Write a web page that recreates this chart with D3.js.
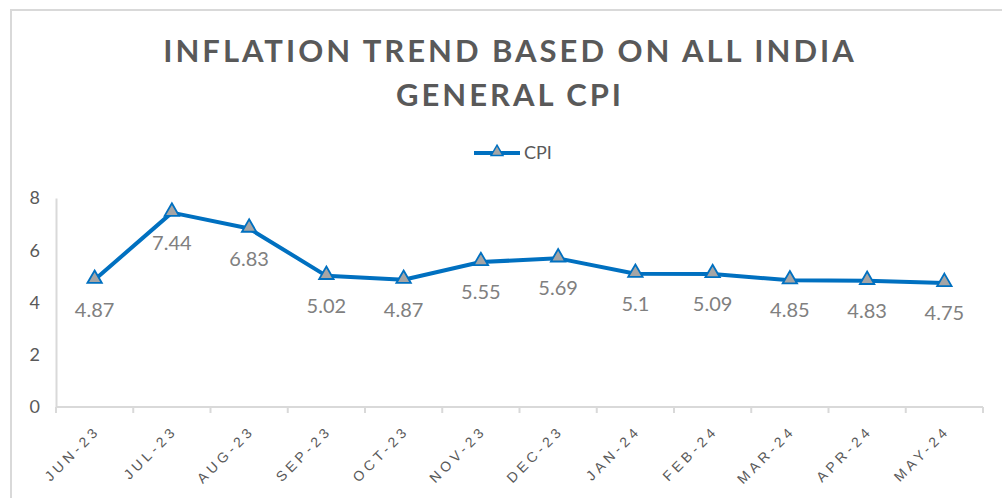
<!DOCTYPE html>
<html>
<head>
<meta charset="utf-8">
<script src="https://cdn.jsdelivr.net/npm/d3@7"></script>
<style>
  body { margin: 0; background: #fff; }
  svg { display: block; font-family: Lato, "Open Sans", sans-serif; }
</style>
</head>
<body>
<div id="chart"></div>
<script>
var months = ["JUN-23", "JUL-23", "AUG-23", "SEP-23", "OCT-23", "NOV-23",
              "DEC-23", "JAN-24", "FEB-24", "MAR-24", "APR-24", "MAY-24"]
var cpi = [4.87, 7.44, 6.83, 5.02, 4.87, 5.55, 5.69, 5.1, 5.09, 4.85, 4.83, 4.75]
var yTicks = [0, 2, 4, 6, 8]
var titleLines = ["INFLATION TREND BASED ON ALL INDIA", "GENERAL CPI"]
var seriesName = "CPI"

var W = 1002, H = 498
var margin = { top: 198, right: 19, bottom: 91, left: 56 }
var width = W - margin.left - margin.right
var height = H - margin.top - margin.bottom

var svg = d3.select("#chart").append("svg")
    .attr("width", W)
    .attr("height", H)

// frame (top + left only visible)
svg.append("path")
    .attr("d", "M11," + H + " L11,10 L" + W + ",10")
    .attr("fill", "none")
    .attr("stroke", "#d9d9d9")
    .attr("stroke-width", 2)

// title
svg.append("text")
    .attr("text-anchor", "middle")
    .attr("fill", "#595959")
    .style("font-size", "31px")
    .style("font-weight", "bold")
    .style("letter-spacing", "3px")
    .selectAll("tspan")
    .data(titleLines)
    .enter().append("tspan")
    .attr("x", 510)
    .attr("y", function(d, i) { return 62 + i * 44 })
    .text(function(d) { return d })

var g = svg.append("g")
    .attr("transform", "translate(" + margin.left + "," + margin.top + ")")

var x = d3.scaleBand().domain(months).range([0, width])
var y = d3.scaleLinear().domain([0, 8]).range([height, 0])

// y axis
var yAxis = g.append("g").call(d3.axisLeft(y).tickValues(yTicks).tickSize(0).tickPadding(16))
yAxis.select(".domain").attr("stroke", "#d9d9d9").attr("stroke-width", 2)
yAxis.selectAll("text")
    .attr("fill", "#595959")
    .style("font-size", "18px")
    .style("font-family", "Lato, 'Open Sans', sans-serif")

// x axis
var xAxis = g.append("g")
    .attr("transform", "translate(0," + height + ")")
    .call(d3.axisBottom(x).tickSize(0).tickFormat(""))
xAxis.select(".domain").attr("stroke", "#d9d9d9").attr("stroke-width", 2)
    .attr("d", "M0,0H" + width)

// category boundary ticks
var bounds = months.map(function(m) { return x(m) }).concat([width])
xAxis.selectAll(".bound")
    .data(bounds)
    .enter().append("line")
    .attr("class", "bound")
    .attr("x1", function(d) { return d })
    .attr("x2", function(d) { return d })
    .attr("y1", 0)
    .attr("y2", 6)
    .attr("stroke", "#d9d9d9")
    .attr("stroke-width", 2)

xAxis.selectAll(".mlabel")
    .data(months)
    .enter().append("text")
    .attr("class", "mlabel")
    .attr("transform", function(d) {
        return "translate(" + (x(d) + x.bandwidth() / 2 + 3) + ",21) rotate(-45)"
    })
    .attr("text-anchor", "end")
    .attr("dy", "0.35em")
    .attr("fill", "#595959")
    .style("font-size", "14px")
    .style("letter-spacing", "4px")
    .text(function(d) { return d })

// line
var line = d3.line()
    .x(function(d, i) { return x(months[i]) + x.bandwidth() / 2 })
    .y(function(d) { return y(d) })

g.append("path")
    .datum(cpi)
    .attr("fill", "none")
    .attr("stroke", "#0070c0")
    .attr("stroke-width", 4)
    .attr("stroke-linejoin", "round")
    .attr("d", line)

var tri = d3.symbol().type(d3.symbolTriangle).size(90)

g.selectAll(".dot")
    .data(cpi)
    .enter().append("path")
    .attr("class", "dot")
    .attr("d", tri)
    .attr("transform", function(d, i) {
        return "translate(" + (x(months[i]) + x.bandwidth() / 2) + "," + (y(d) - 1) + ")"
    })
    .attr("fill", "#a5a5a5")
    .attr("stroke", "#0070c0")
    .attr("stroke-width", 1.8)

g.selectAll(".label")
    .data(cpi)
    .enter().append("text")
    .attr("class", "label")
    .attr("x", function(d, i) { return x(months[i]) + x.bandwidth() / 2 })
    .attr("y", function(d) { return y(d) + 37 })
    .attr("text-anchor", "middle")
    .attr("fill", "#808080")
    .style("font-size", "20px")
    .text(function(d) { return d })

// legend
var lg = svg.append("g").attr("transform", "translate(474,153)")
lg.append("line")
    .attr("x1", 0).attr("x2", 46)
    .attr("stroke", "#0070c0")
    .attr("stroke-width", 4)
lg.append("path")
    .attr("d", d3.symbol().type(d3.symbolTriangle).size(60))
    .attr("transform", "translate(23,-1)")
    .attr("fill", "#a5a5a5")
    .attr("stroke", "#0070c0")
    .attr("stroke-width", 1.5)
lg.append("text")
    .attr("x", 50)
    .attr("dy", "0.35em")
    .attr("fill", "#595959")
    .style("font-size", "18px")
    .text(seriesName)
</script>
</body>
</html>
